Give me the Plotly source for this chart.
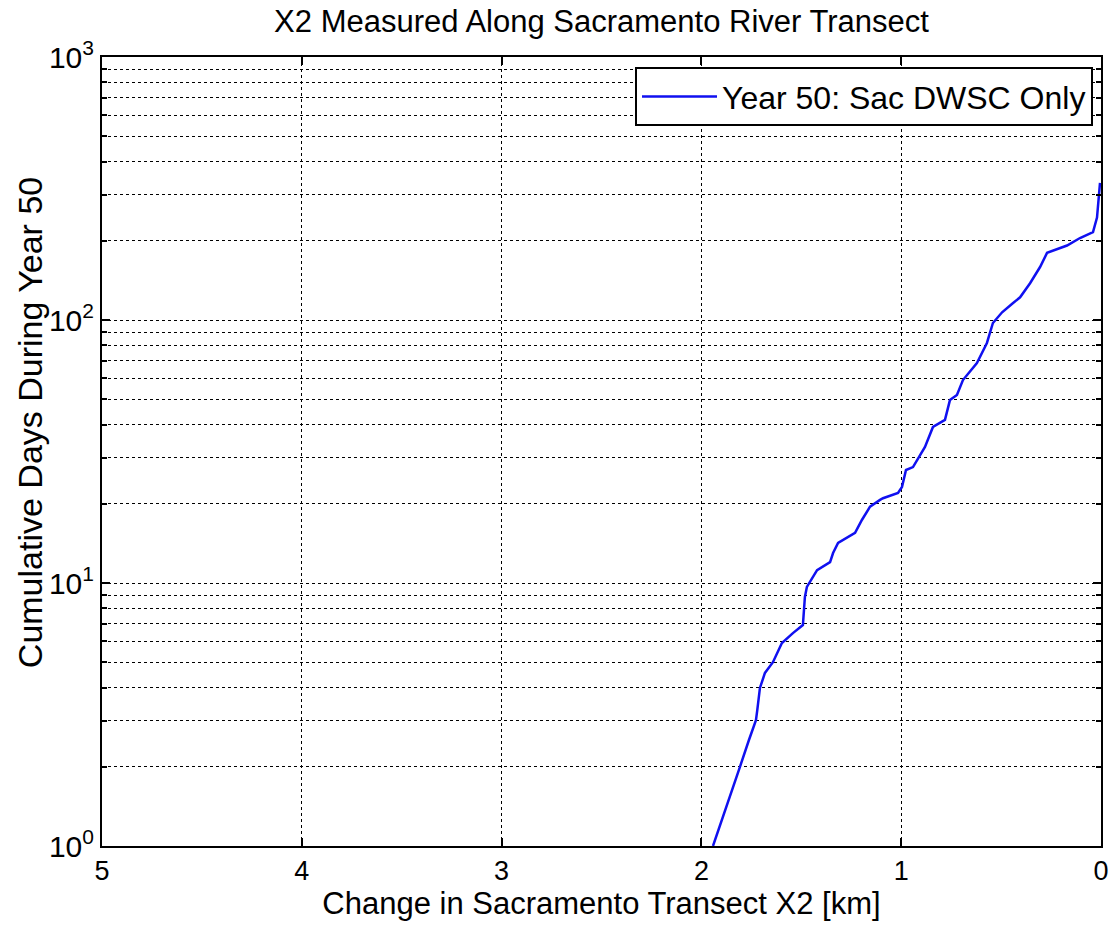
import plotly.graph_objects as go

# Data (change in X2 [km], cumulative days)
x2_change_km = [1.942, 1.872, 1.807, 1.762, 1.727, 1.720, 1.707, 1.682, 1.642, 1.597,
                1.542, 1.492, 1.482, 1.472, 1.446, 1.421, 1.356, 1.341, 1.316, 1.231,
                1.196, 1.156, 1.106, 1.091, 1.016, 0.996, 0.976, 0.941, 0.881, 0.841,
                0.781, 0.756, 0.721, 0.691, 0.621, 0.571, 0.541, 0.495, 0.440, 0.405,
                0.355, 0.305, 0.270, 0.205, 0.170, 0.105, 0.040, 0.020, 0.005]
cumulative_days = [1.0, 1.42, 2.0, 2.53, 3.01, 3.3, 3.99, 4.55, 5.0, 5.91,
                   6.45, 6.92, 8.85, 9.66, 10.45, 11.2, 12.0, 13.0, 14.2, 15.5,
                   17.4, 19.5, 20.7, 21.0, 22.0, 23.2, 26.9, 27.6, 32.9, 39.2,
                   41.7, 49.6, 51.9, 59.1, 68.6, 81.8, 97.4, 107, 116, 122,
                   138, 159, 180, 188, 192, 205, 216, 245, 332]

series_name = "Year 50: Sac DWSC Only"
title_text = "X2 Measured Along Sacramento River Transect"
x_title = "Change in Sacramento Transect X2 [km]"
y_title = "Cumulative Days During Year 50"
x_ticks = [0, 1, 2, 3, 4, 5]
decades = [1, 10, 100, 1000]
decade_labels = ["10<sup>0</sup>", "10<sup>1</sup>", "10<sup>2</sup>", "10<sup>3</sup>"]
minor_multipliers = [2, 3, 4, 5, 6, 7, 8, 9]

y_minor_vals = [d * m for d in decades[:-1] for m in minor_multipliers]

FONT = "Liberation Sans, Arial, Helvetica, sans-serif"

fig = go.Figure()
fig.add_trace(go.Scatter(x=x2_change_km, y=cumulative_days, mode="lines",
                         name=series_name, line=dict(color="#1010f0", width=2.5)))

fig.update_layout(
    width=1112, height=928,
    margin=dict(l=102, r=11, t=57, b=82),
    paper_bgcolor="white", plot_bgcolor="white",
    font=dict(family=FONT, color="black", size=28),
    title=dict(text=title_text, xref="paper", x=0.5, xanchor="center",
               y=0.977, yanchor="middle", font=dict(size=31)),
    showlegend=True,
    legend=dict(x=0.992, y=0.987, xanchor="right", yanchor="top",
                bgcolor="white", bordercolor="black", borderwidth=2,
                font=dict(size=32), itemwidth=75),
)
fig.add_annotation(text=y_title, textangle=-90, xref="paper", yref="paper",
                   x=-0.072, y=0.536, xanchor="center", yanchor="middle",
                   showarrow=False, font=dict(size=34))
fig.update_xaxes(
    range=[5, 0], tickvals=x_ticks, ticktext=[str(v) for v in x_ticks],
    showline=True, linecolor="black", linewidth=2, mirror="ticks",
    ticks="inside", ticklen=8, tickwidth=2, tickcolor="black",
    showgrid=True, gridcolor="black", gridwidth=1, griddash="dot",
    zeroline=False, tickfont=dict(size=27), automargin=False,
    title=dict(text=x_title, font=dict(size=31), standoff=2),
)
fig.update_yaxes(
    type="log", range=[0, 3], tickvals=decades, ticktext=decade_labels,
    showline=True, linecolor="black", linewidth=2, mirror="ticks",
    ticks="inside", ticklen=8, tickwidth=2, tickcolor="black",
    showgrid=True, gridcolor="black", gridwidth=1, griddash="dot",
    minor=dict(tickmode="array", tickvals=y_minor_vals, ticks="inside", ticklen=5,
               tickwidth=2, tickcolor="black", showgrid=True, gridcolor="black",
               gridwidth=1, griddash="dot"),
    zeroline=False, tickfont=dict(size=30), automargin=False,
)

fig.write_html("out.html", config={"displayModeBar": False},
               post_script="document.body.style.margin='0';document.body.style.overflow='hidden';")
